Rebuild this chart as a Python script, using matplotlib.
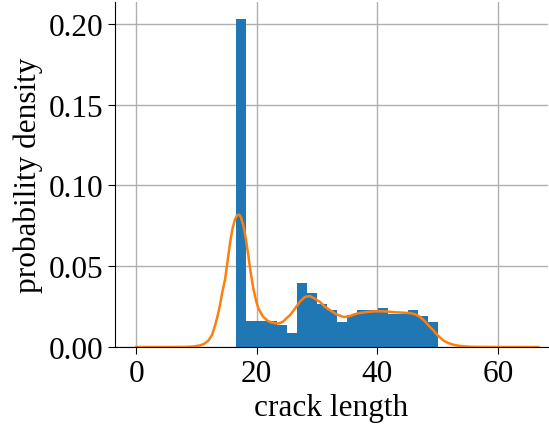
import numpy as np
import matplotlib
matplotlib.use("Agg")
import matplotlib.pyplot as plt

plt.rcParams['font.family'] = ['Liberation Serif', 'DejaVu Serif']
plt.rcParams['mathtext.fontset'] = 'stix'

# histogram (density)
bin_start = 16.6
bin_end = 50.1
hist_density = [0.203, 0.0162, 0.0162, 0.0162, 0.0134, 0.0088, 0.0398, 0.0336,
                0.0268, 0.0227, 0.0155, 0.0195, 0.0227, 0.0227, 0.0243, 0.0206,
                0.0206, 0.0227, 0.0194, 0.0157]

# KDE curve
kde_x = [0, 5, 8, 9.5, 10.6, 11.3, 12.0, 12.6, 13.1, 13.5, 13.9, 14.3, 14.76, 15.2,
         15.6, 16.0, 16.4, 16.7, 16.97, 17.2, 17.4, 17.8, 18.2, 18.6, 19.0, 19.45,
         19.9, 20.3, 21.0, 21.7, 22.2, 23.0, 23.6, 24.3, 25.0, 25.5, 26.3, 27.2,
         28.0, 28.8, 29.6, 30.5, 31.3, 32.2, 33.2, 34.4, 35.2, 36.0, 37.0, 38.2,
         39.3, 40.4, 41.5, 42.6, 44.0, 45.4, 46.3, 47.1, 48.0, 48.7, 49.3, 50.0,
         50.96, 51.8, 52.6, 53.6, 54.8, 56, 60, 66.7]
kde_y = [0, 0, 0.00005, 0.0003, 0.001, 0.002, 0.004, 0.0075, 0.0134, 0.019, 0.0258,
         0.034, 0.042, 0.054, 0.065, 0.0735, 0.079, 0.0812, 0.0819, 0.0815, 0.080,
         0.075, 0.067, 0.0567, 0.046, 0.036, 0.0285, 0.0237, 0.019, 0.0165, 0.0155,
         0.0147, 0.0146, 0.0155, 0.018, 0.0196, 0.0235, 0.0282, 0.031, 0.0315, 0.030,
         0.0278, 0.025, 0.0227, 0.0202, 0.0186, 0.0188, 0.0200, 0.021, 0.0216, 0.022,
         0.0221, 0.022, 0.0216, 0.0213, 0.021, 0.0202, 0.0186, 0.0155, 0.0125,
         0.0103, 0.0072, 0.004, 0.0024, 0.0014, 0.0007, 0.0003, 0.0001, 0, 0]

x_ticks = [0, 20, 40, 60]
y_ticks = [0.00, 0.05, 0.10, 0.15, 0.20]

fig = plt.figure(figsize=(5.49, 4.27), dpi=100)
ax = fig.add_axes([115/549, 1-348/427, 433/549, 345/427])

edges = np.linspace(bin_start, bin_end, len(hist_density) + 1)
ax.stairs(hist_density, edges, fill=True, color='#1f77b4')
ax.plot(kde_x, kde_y, color='#ff7f0e', lw=1.8)

ax.set_xlim(-3.5, 68.3)
ax.set_ylim(0, 0.2135)
ax.set_xticks(x_ticks)
ax.set_yticks(y_ticks)
ax.set_yticklabels([f"{v:.2f}" for v in y_ticks])
ax.grid(True, color='#b0b0b0', lw=1.0)
ax.set_axisbelow(True)
for s in ['top', 'right']:
    ax.spines[s].set_visible(False)
for s in ['left', 'bottom']:
    ax.spines[s].set_color('black')
ax.tick_params(labelsize=22.5, length=5)
ax.set_xlabel('crack length', fontsize=22.5)
ax.set_ylabel('probability density', fontsize=22.5)

fig.savefig('out.png', dpi=100)
